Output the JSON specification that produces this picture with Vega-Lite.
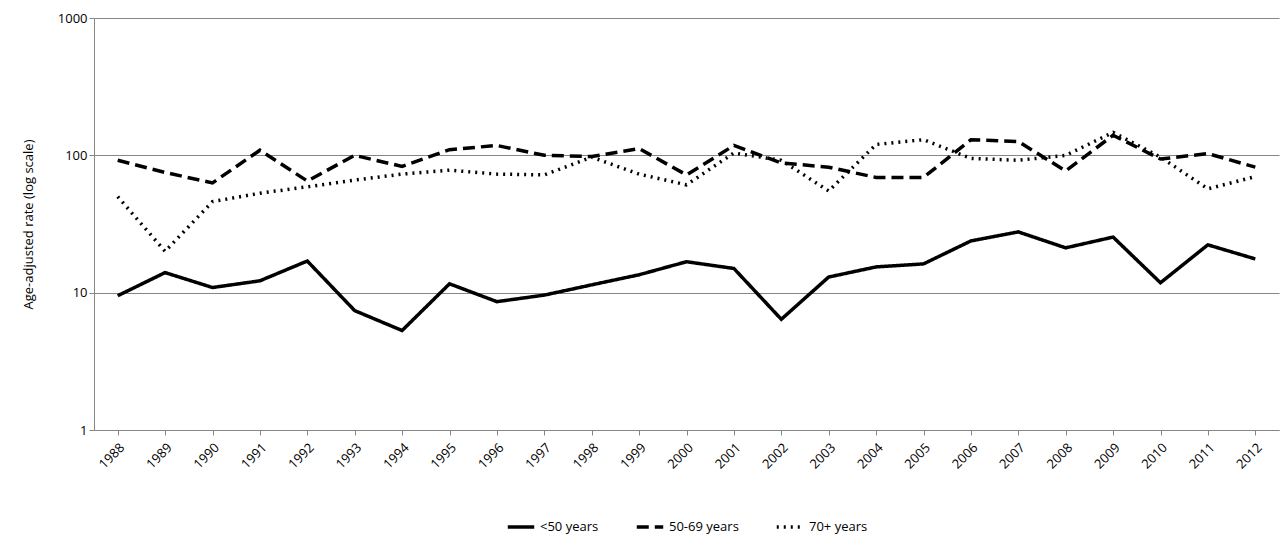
{
  "$schema": "https://vega.github.io/schema/vega-lite/v6.json",
  "width": 1282,
  "height": 546,
  "autosize": {"type": "fit", "contains": "padding"},
  "padding": {"left": 22, "top": 12, "right": 3, "bottom": 12},
  "config": {
    "font": "Open Sans",
    "view": {"stroke": null},
    "axis": {"labelFont": "Open Sans", "titleFont": "Open Sans", "labelFontSize": 13, "titleFontSize": 13, "labelColor": "#000", "titleColor": "#000", "titleFontWeight": "normal"},
    "legend": {"layout": {"bottom": {"anchor": "middle"}}}
  },
  "data": {"values": [
    {"year":"1988","a":9.5,"b":92,"c":50},
    {"year":"1989","a":14,"b":75,"c":20},
    {"year":"1990","a":10.9,"b":63,"c":46},
    {"year":"1991","a":12.2,"b":109,"c":53},
    {"year":"1992","a":17,"b":65,"c":59},
    {"year":"1993","a":7.4,"b":100,"c":66},
    {"year":"1994","a":5.3,"b":83,"c":73},
    {"year":"1995","a":11.6,"b":110,"c":78},
    {"year":"1996","a":8.6,"b":118,"c":73},
    {"year":"1997","a":9.6,"b":100,"c":72},
    {"year":"1998","a":11.4,"b":98,"c":97},
    {"year":"1999","a":13.5,"b":112,"c":73},
    {"year":"2000","a":16.8,"b":72,"c":61},
    {"year":"2001","a":15,"b":118,"c":104},
    {"year":"2002","a":6.4,"b":88,"c":92},
    {"year":"2003","a":13,"b":82,"c":55},
    {"year":"2004","a":15.4,"b":69,"c":120},
    {"year":"2005","a":16.2,"b":69,"c":130},
    {"year":"2006","a":23.8,"b":130,"c":95},
    {"year":"2007","a":27.7,"b":126,"c":92},
    {"year":"2008","a":21.2,"b":77,"c":100},
    {"year":"2009","a":25.4,"b":140,"c":147},
    {"year":"2010","a":11.8,"b":94,"c":97},
    {"year":"2011","a":22.3,"b":103,"c":57},
    {"year":"2012","a":17.6,"b":82,"c":70}
  ]},
  "transform": [
    {"fold": ["a", "b", "c"], "as": ["k", "rate"]},
    {"lookup": "k", "from": {"data": {"values": [
      {"k":"a","series":"<50 years"},
      {"k":"b","series":"50-69 years"},
      {"k":"c","series":"70+ years"}
    ]}, "key": "k", "fields": ["series"]}}
  ],
  "mark": {"type": "line", "color": "black", "strokeWidth": 3.5},
  "encoding": {
    "x": {"field": "year", "type": "ordinal", "title": null,
      "scale": {"type": "point", "padding": 0.5},
      "axis": {"labelAngle": -45, "domainColor": "#868686", "tickColor": "#868686", "labelPadding": 6}},
    "y": {"field": "rate", "type": "quantitative", "title": "Age-adjusted rate (log scale)",
      "scale": {"type": "log", "domain": [1, 1000]},
      "axis": {"values": [1, 10, 100, 1000], "format": "d", "gridColor": "#868686", "domainColor": "#868686", "tickColor": "#868686", "titlePadding": 22}},
    "strokeDash": {"field": "series", "type": "nominal", "title": null,
      "scale": {"domain": ["<50 years", "50-69 years", "70+ years"], "range": [[1, 0], [12, 6], [2, 5]]},
      "legend": {"orient": "bottom", "direction": "horizontal", "offset": 40, "symbolType": "stroke", "symbolSize": 700, "symbolStrokeWidth": 3.5, "symbolStrokeColor": "black", "labelFontSize": 13, "columnPadding": 30}}
  }
}
